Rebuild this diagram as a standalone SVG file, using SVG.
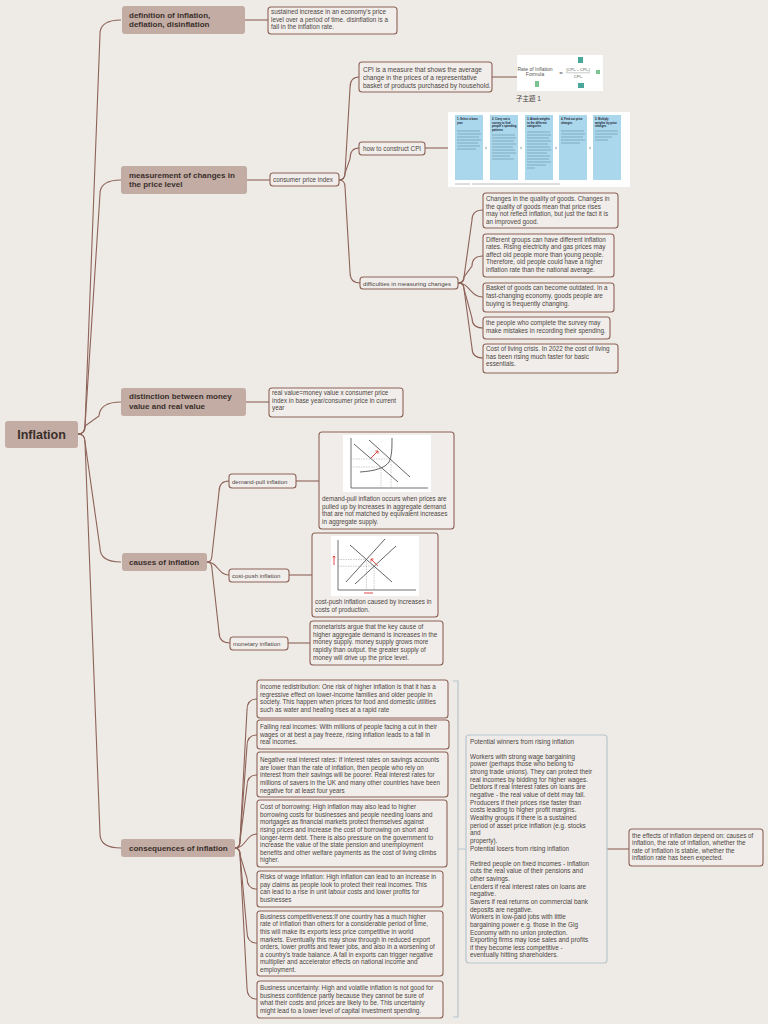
<svg xmlns="http://www.w3.org/2000/svg" width="768" height="1024" viewBox="0 0 768 1024">
<style>
.main{fill:#c2aca4}
.leaf{fill:#f1edea;stroke:#8d6358;stroke-width:1.1}
.conn{fill:none;stroke:#8d6358;stroke-width:1.1}
.blue{fill:none;stroke:#b8c6cd;stroke-width:1.2}
text{font-family:"Liberation Sans",Arial,sans-serif}
.t{font-size:6.3px;fill:#4d4642}
.w{font-size:6.4px;fill:#4d4642}
.b{font-size:8px;font-weight:bold;fill:#3a2f2b}
.r{font-size:12.5px;font-weight:bold;fill:#3a2f2b}
.ax{fill:none;stroke:#333;stroke-width:0.7}
.ln{fill:none;stroke:#222;stroke-width:0.7}
.ds{fill:none;stroke:#999;stroke-width:0.5;stroke-dasharray:1.5,1}
.red{fill:none;stroke:#d33;stroke-width:0.9}
.cb{fill:#aad7ec}
.ch{font-size:2.8px;font-weight:bold;fill:#223}
.gl{stroke:#6a8a9a;stroke-width:0.6}
.fm{font-size:5px;fill:#555}
</style>
<rect width="768" height="1024" fill="#eeeae6"/>

<g id="connectors">
<path class="conn" d="M78,434 Q85,434 85,426 L100,34 Q100,20 121,20"/>
<path class="conn" d="M78,434 Q85,434 85,426 L100,194 Q100,180 121,180"/>
<path class="conn" d="M78,434 Q85,434 85,426 L99,416 Q100,402 121,402"/>
<path class="conn" d="M78,434 Q85,434 85,442 L100,548 Q100,562 121,562"/>
<path class="conn" d="M78,434 Q85,434 85,442 L100,834 Q100,848 121,848"/>
<path class="conn" d="M245,20 L268,20"/>
<path class="conn" d="M247,180 L270,180"/>
<path class="conn" d="M246,402 L269,402"/>
<path class="conn" d="M339,180 Q345,180 345,173 L350,88 Q350,77 359,77"/>
<path class="conn" d="M339,180 Q345,180 345,173 L350,159 Q350,148 359,148"/>
<path class="conn" d="M339,180 Q345,180 345,187 L350,272 Q350,283 360,283"/>
<path class="conn" d="M492,77 L517,77"/>
<path class="conn" d="M425,148 L448,148"/>
<path class="conn" d="M458,283 Q464,283 464,277 L472,220 Q472,210 483,210"/>
<path class="conn" d="M458,283 Q464,283 464,277 L472,266 Q472,256 483,256"/>
<path class="conn" d="M458,283 C470,283 470,297 483,297"/>
<path class="conn" d="M458,283 Q464,283 464,289 L472,318 Q472,328 483,328"/>
<path class="conn" d="M458,283 Q464,283 464,289 L472,348 Q472,358 483,358"/>
<path class="conn" d="M207,562 Q212,562 212,555 L219,492 Q219,481 229,481"/>
<path class="conn" d="M207,562 C218,562 218,575 229,575"/>
<path class="conn" d="M207,562 Q212,562 212,569 L219,632 Q219,643 230,643"/>
<path class="conn" d="M296,481 L319,481"/>
<path class="conn" d="M289,575 L312,575"/>
<path class="conn" d="M288,643 L310,643"/>
<path class="conn" d="M235,848 Q240,848 240,841 L247,710 Q247,699 257,699"/>
<path class="conn" d="M235,848 Q240,848 240,841 L247,746 Q247,735 257,735"/>
<path class="conn" d="M235,848 Q240,848 240,841 L247,786 Q247,775 257,775"/>
<path class="conn" d="M235,848 C246,848 246,834 257,834"/>
<path class="conn" d="M235,848 Q240,848 240,855 L247,878 Q247,889 257,889"/>
<path class="conn" d="M235,848 Q240,848 240,855 L247,932 Q247,943 257,943"/>
<path class="conn" d="M235,848 Q240,848 240,855 L247,988 Q247,999 257,999"/>
<path class="blue" d="M453,681 H458 V1017 H453 M458,849 H466"/>
<path class="conn" d="M607,849 H629"/>
</g>

<g id="root">
<rect class="main" x="5" y="421" width="73" height="27" rx="3"/>
<text class="r" x="41.5" y="438.5" text-anchor="middle">Inflation</text>
</g>

<g id="definition">
<rect class="main" x="122" y="6" width="123" height="28" rx="3"/>
<text class="b" x="129" y="17.5">definition of inflation,</text>
<text class="b" x="129" y="27">deflation, disinflation</text>
</g>
<g id="definition-text">
<rect class="leaf" x="268" y="7" width="129" height="27" rx="3"/>
<text class="t"><tspan x="271" y="14.2">sustained increase in an economy's price</tspan><tspan x="271" y="21.8">level over a period of time. disinflation is a</tspan><tspan x="271" y="29.4">fall in the inflation rate.</tspan></text>
</g>

<g id="measurement">
<rect class="main" x="121" y="166" width="126" height="28" rx="3"/>
<text class="b" x="129" y="177.5">measurement of changes in</text>
<text class="b" x="129" y="187">the price level</text>
</g>
<g id="cpi">
<rect class="leaf" x="270" y="173" width="69" height="13" rx="3"/>
<text class="t" x="273" y="182">consumer price index</text>
</g>
<g id="cpi-measure">
<rect class="leaf" x="359" y="62" width="133" height="30" rx="3"/>
<text class="t" style="font-size:6.5px"><tspan x="363" y="72.2">CPI is a measure that shows the average</tspan><tspan x="363" y="80">change in the prices of a representative</tspan><tspan x="363" y="87.6">basket of products purchased by household.</tspan></text>
</g>
<g id="formula-image">
<rect x="517" y="55" width="86" height="36" fill="#ffffff"/>
<text class="fm" x="535" y="70.5" text-anchor="middle">Rate of Inflation</text>
<text class="fm" x="535" y="76" text-anchor="middle">Formula</text>
<text x="561" y="75" text-anchor="middle" style="font-size:6px;fill:#555">=</text>
<text x="578" y="71" text-anchor="middle" style="font-size:4px;fill:#555">(CPI₁ – CPI₀)</text>
<line x1="566" y1="72.8" x2="590" y2="72.8" stroke="#777" stroke-width="0.4"/>
<text x="578" y="77.5" text-anchor="middle" style="font-size:4px;fill:#555">CPI₀</text>
<rect x="578" y="57" width="5" height="6" fill="#4aa89a"/>
<rect x="535" y="81" width="4" height="6" fill="#7cc48f"/>
<rect x="578" y="83" width="6" height="5" fill="#4aa89a"/>
<rect x="596" y="70" width="4" height="4" fill="#7cc48f"/>
</g>
<g id="caption">
<text x="516" y="101" style="font-size:6.5px;fill:#444;font-family:'Liberation Sans','Noto Sans CJK TC',sans-serif">子主題 1</text>
</g>
<g id="how-construct">
<rect class="leaf" x="359" y="142" width="66" height="13" rx="3"/>
<text class="t" x="363" y="150.8">how to construct CPI</text>
</g>
<g id="cpi-figure">
<rect x="448" y="112" width="182" height="75" fill="#ffffff"/>
<rect class="cb" x="455" y="115" width="28" height="65"/>
<rect class="cb" x="490" y="115" width="28" height="65"/>
<rect class="cb" x="525" y="115" width="28" height="65"/>
<rect class="cb" x="559" y="115" width="28" height="65"/>
<rect class="cb" x="593" y="115" width="28" height="65"/>
<text class="ch"><tspan x="457" y="120">1. Select a base</tspan><tspan x="457" y="123.5">year</tspan></text>
<text class="ch"><tspan x="492" y="120">2. Carry out a</tspan><tspan x="492" y="123.5">survey to find</tspan><tspan x="492" y="127">people's spending</tspan><tspan x="492" y="130.5">patterns</tspan></text>
<text class="ch"><tspan x="527" y="120">3. Attach weights</tspan><tspan x="527" y="123.5">to the different</tspan><tspan x="527" y="127">categories</tspan></text>
<text class="ch"><tspan x="561" y="120">4. Find out price</tspan><tspan x="561" y="123.5">changes</tspan></text>
<text class="ch"><tspan x="595" y="120">5. Multiply</tspan><tspan x="595" y="123.5">weights by price</tspan><tspan x="595" y="127">changes</tspan></text>
<g class="gl">
<path d="M457,131H480M457,134H481M457,137H479M457,140H481M457,143H478M457,146H480M457,149H476"/>
<path d="M492,135H515M492,138H516M492,141H514M492,144H516M492,147H513M492,150H515M492,153H516M492,156H510M492,159H514"/>
<path d="M527,132H550M527,135H551M527,138H549M527,141H551M527,144H548M527,147H550M527,150H551M527,153H547M527,156H550M527,159H549M527,162H551M527,165H546M527,168H535"/>
<path d="M561,131H584M561,134H585M561,137H583M561,140H585M561,143H580"/>
<path d="M595,131H618M595,134H618M595,137H612M595,140H608"/>
</g>
<path d="M485,147 l2,1 l-2,1 M520,147 l2,1 l-2,1 M555,147 l2,1 l-2,1 M589,147 l2,1 l-2,1" fill="none" stroke="#6a8a9a" stroke-width="0.5"/>
<path d="M455,184H470M472,184H560" stroke="#aaa" stroke-width="0.8"/>
</g>
<g id="difficulties">
<rect class="leaf" x="360" y="277" width="98" height="12" rx="3"/>
<text class="t" x="363" y="285.5" style="font-size:6.1px">difficulties in measuring changes</text>
</g>
<g id="diff-1">
<rect class="leaf" x="483" y="193" width="135" height="35" rx="3"/>
<text class="t"><tspan x="486" y="201">Changes in the quality of goods. Changes in</tspan><tspan x="486" y="208.6">the quality of goods mean that price rises</tspan><tspan x="486" y="216.2">may not reflect inflation, but just the fact it is</tspan><tspan x="486" y="223.8">an improved good.</tspan></text>
</g>
<g id="diff-2">
<rect class="leaf" x="483" y="234" width="131" height="43" rx="3"/>
<text class="t"><tspan x="486" y="241.5">Different groups can have different inflation</tspan><tspan x="486" y="249.1">rates. Rising electricity and gas prices may</tspan><tspan x="486" y="256.7">affect old people more than young people.</tspan><tspan x="486" y="264.3">Therefore, old people could have a higher</tspan><tspan x="486" y="271.9">inflation rate than the national average.</tspan></text>
</g>
<g id="diff-3">
<rect class="leaf" x="483" y="283" width="131" height="29" rx="3"/>
<text class="t"><tspan x="486" y="290.4">Basket of goods can become outdated. In a</tspan><tspan x="486" y="298">fast-changing economy, goods people are</tspan><tspan x="486" y="305.6">buying is frequently changing.</tspan></text>
</g>
<g id="diff-4">
<rect class="leaf" x="483" y="317" width="127" height="22" rx="3"/>
<text class="t"><tspan x="486" y="325">the people who complete the survey may</tspan><tspan x="486" y="332.6">make mistakes in recording their spending.</tspan></text>
</g>
<g id="diff-5">
<rect class="leaf" x="483" y="344" width="135" height="29" rx="3"/>
<text class="t"><tspan x="486" y="351.2">Cost of living crisis. In 2022 the cost of living</tspan><tspan x="486" y="358.8">has been rising much faster for basic</tspan><tspan x="486" y="366.4">essentials.</tspan></text>
</g>

<g id="distinction">
<rect class="main" x="121" y="388" width="125" height="28" rx="3"/>
<text class="b" x="129" y="399">distinction between money</text>
<text class="b" x="129" y="408.5">value and real value</text>
</g>
<g id="distinction-text">
<rect class="leaf" x="269" y="388" width="134" height="29" rx="3"/>
<text class="t"><tspan x="272" y="395.2">real value=money value x consumer price</tspan><tspan x="272" y="402.8">index in base year/consumer price in current</tspan><tspan x="272" y="410.4">year</tspan></text>
</g>

<g id="causes">
<rect class="main" x="122" y="553" width="85" height="18" rx="3"/>
<text class="b" x="129" y="564.8">causes of inflation</text>
</g>
<g id="demand-pull">
<rect class="leaf" x="229" y="474" width="67" height="14" rx="3"/>
<text class="t" x="232" y="483.5" style="font-size:6px">demand-pull inflation</text>
</g>
<g id="demand-pull-text">
<rect class="leaf" x="319" y="432" width="135" height="97" rx="3"/>
<rect x="343" y="435" width="88" height="57" fill="#ffffff"/>
<path class="ax" d="M351,438 V488 H428"/>
<path class="ln" d="M354,444 L398,482"/>
<path class="ln" d="M369,440 L410,477"/>
<path class="ln" d="M360,472 C375,471 385,468 389,462 C392,456 392,448 392,438"/>
<path class="ds" d="M351,459 H391 V488 M351,467 H381 V488"/>
<path class="red" d="M371,458 L378,451 M375.5,451 L378,451 L378,453.5"/>
<text class="t"><tspan x="322" y="501.2">demand-pull inflation occurs when prices are</tspan><tspan x="322" y="508.8">pulled up by increases in aggregate demand</tspan><tspan x="322" y="516.4">that are not matched by equivalent increases</tspan><tspan x="322" y="524">in aggregate supply.</tspan></text>
</g>
<g id="cost-push">
<rect class="leaf" x="229" y="569" width="60" height="13" rx="3"/>
<text class="t" x="232" y="577.6" style="font-size:6px">cost-push inflation</text>
</g>
<g id="cost-push-text">
<rect class="leaf" x="312" y="533" width="126" height="84" rx="3"/>
<rect x="331" y="536" width="88" height="60" fill="#ffffff"/>
<path class="ax" d="M338,540 V590 H416"/>
<path class="ln" d="M355,584 L396,546"/>
<path class="ln" d="M346,582 L385,539"/>
<path class="ln" d="M350,545 L392,582"/>
<path class="ds" d="M338,559.5 H366.4 V590 M338,566.2 H374.1 V590"/>
<path class="red" d="M378,566 L371,559 M371,561.5 L371,559 L373.5,559"/>
<path class="red" d="M334,565 V556 M332.8,557.5 L334,556 L335.2,557.5"/>
<path class="red" d="M364,593 H373"/>
<text class="t"><tspan x="315" y="604.2">cost-push inflation caused by increases in</tspan><tspan x="315" y="611.8">costs of production.</tspan></text>
</g>
<g id="monetary">
<rect class="leaf" x="230" y="637" width="58" height="13" rx="3"/>
<text class="t" x="233" y="645.6" style="font-size:6px">monetary inflation</text>
</g>
<g id="monetary-text">
<rect class="leaf" x="310" y="621" width="133" height="44" rx="3"/>
<text class="t"><tspan x="313" y="629.2">monetarists argue that the key cause of</tspan><tspan x="313" y="636.8">higher aggregate demand is increases in the</tspan><tspan x="313" y="644.4">money supply. money supply grows more</tspan><tspan x="313" y="652">rapidly than output. the greater supply of</tspan><tspan x="313" y="659.6">money will drive up the price level.</tspan></text>
</g>

<g id="consequences">
<rect class="main" x="121" y="839" width="114" height="18" rx="3"/>
<text class="b" x="129" y="851">consequences of inflation</text>
</g>
<g id="cons-1">
<rect class="leaf" x="257" y="680" width="191" height="38" rx="3"/>
<text class="t"><tspan x="260" y="689.2">Income redistribution: One risk of higher inflation is that it has a</tspan><tspan x="260" y="696.8">regressive effect on lower-income families and older people in</tspan><tspan x="260" y="704.4">society. This happen when prices for food and domestic utilities</tspan><tspan x="260" y="712">such as water and heating rises at a rapid rate</tspan></text>
</g>
<g id="cons-2">
<rect class="leaf" x="257" y="720" width="192" height="29" rx="3"/>
<text class="t"><tspan x="260" y="729.2">Falling real incomes: With millions of people facing a cut in their</tspan><tspan x="260" y="736.8">wages or at best a pay freeze, rising inflation leads to a fall in</tspan><tspan x="260" y="744.4">real incomes.</tspan></text>
</g>
<g id="cons-3">
<rect class="leaf" x="257" y="752" width="191" height="45" rx="3"/>
<text class="t"><tspan x="260" y="762.2">Negative real interest rates: If interest rates on savings accounts</tspan><tspan x="260" y="769.8">are lower than the rate of inflation, then people who rely on</tspan><tspan x="260" y="777.4">interest from their savings will be poorer. Real interest rates for</tspan><tspan x="260" y="785">millions of savers in the UK and many other countries have been</tspan><tspan x="260" y="792.6">negative for at least four years</tspan></text>
</g>
<g id="cons-4">
<rect class="leaf" x="257" y="800" width="190" height="67" rx="3"/>
<text class="t"><tspan x="260" y="809.2">Cost of borrowing: High inflation may also lead to higher</tspan><tspan x="260" y="816.8">borrowing costs for businesses and people needing loans and</tspan><tspan x="260" y="824.4">mortgages as financial markets protect themselves against</tspan><tspan x="260" y="832">rising prices and increase the cost of borrowing on short and</tspan><tspan x="260" y="839.6">longer-term debt. There is also pressure on the government to</tspan><tspan x="260" y="847.2">increase the value of the state pension and unemployment</tspan><tspan x="260" y="854.8">benefits and other welfare payments as the cost of living climbs</tspan><tspan x="260" y="862.4">higher.</tspan></text>
</g>
<g id="cons-5">
<rect class="leaf" x="257" y="871" width="186" height="36" rx="3"/>
<text class="t"><tspan x="260" y="879">Risks of wage inflation: High inflation can lead to an increase in</tspan><tspan x="260" y="886.6">pay claims as people look to protect their real incomes. This</tspan><tspan x="260" y="894.2">can lead to a rise in unit labour costs and lower profits for</tspan><tspan x="260" y="901.8">businesses</tspan></text>
</g>
<g id="cons-6">
<rect class="leaf" x="257" y="911" width="186" height="65" rx="3"/>
<text class="t"><tspan x="260" y="918.8">Business competitiveness:If one country has a much higher</tspan><tspan x="260" y="926.4">rate of inflation than others for a considerable period of time,</tspan><tspan x="260" y="934">this will make its exports less price competitive in world</tspan><tspan x="260" y="941.6">markets. Eventually this may show through in reduced export</tspan><tspan x="260" y="949.2">orders, lower profits and fewer jobs, and also in a worsening of</tspan><tspan x="260" y="956.8">a country's trade balance. A fall in exports can trigger negative</tspan><tspan x="260" y="964.4">multiplier and accelerator effects on national income and</tspan><tspan x="260" y="972">employment.</tspan></text>
</g>
<g id="cons-7">
<rect class="leaf" x="257" y="981" width="186" height="37" rx="3"/>
<text class="t"><tspan x="260" y="990.2">Business uncertainty: High and volatile inflation is not good for</tspan><tspan x="260" y="997.8">business confidence partly because they cannot be sure of</tspan><tspan x="260" y="1005.4">what their costs and prices are likely to be. This uncertainty</tspan><tspan x="260" y="1013">might lead to a lower level of capital investment spending.</tspan></text>
</g>

<g id="winners-losers">
<rect x="466" y="735" width="141" height="228" rx="3" fill="#efebe8" stroke="#b8c6cd" stroke-width="1.2"/>
<text class="w"><tspan x="470" y="743.5">Potential winners from rising inflation</tspan><tspan x="470" y="758.8">Workers with strong wage bargaining</tspan><tspan x="470" y="766.4">power (perhaps those who belong to</tspan><tspan x="470" y="774.1">strong trade unions). They can protect their</tspan><tspan x="470" y="781.7">real incomes by bidding for higher wages.</tspan><tspan x="470" y="789.3">Debtors if real interest rates on loans are</tspan><tspan x="470" y="797">negative - the real value of debt may fall.</tspan><tspan x="470" y="804.6">Producers if their prices rise faster than</tspan><tspan x="470" y="812.3">costs leading to higher profit margins.</tspan><tspan x="470" y="819.9">Wealthy groups if there is a sustained</tspan><tspan x="470" y="827.5">period of asset price inflation (e.g. stocks</tspan><tspan x="470" y="835.2">and</tspan><tspan x="470" y="842.8">property).</tspan><tspan x="470" y="850.5">Potential losers from rising inflation</tspan><tspan x="470" y="865.7">Retired people on fixed incomes - inflation</tspan><tspan x="470" y="873.4">cuts the real value of their pensions and</tspan><tspan x="470" y="881">other savings.</tspan><tspan x="470" y="888.7">Lenders if real interest rates on loans are</tspan><tspan x="470" y="896.3">negative.</tspan><tspan x="470" y="903.9">Savers if real returns on commercial bank</tspan><tspan x="470" y="911.6">deposits are negative.</tspan><tspan x="470" y="919.2">Workers in low-paid jobs with little</tspan><tspan x="470" y="926.9">bargaining power e.g. those in the Gig</tspan><tspan x="470" y="934.5">Economy with no union protection.</tspan><tspan x="470" y="942.1">Exporting firms may lose sales and profits</tspan><tspan x="470" y="949.8">if they become less competitive -</tspan><tspan x="470" y="957.4">eventually hitting shareholders.</tspan></text>
</g>
<g id="effects">
<rect class="leaf" x="629" y="829" width="134" height="37" rx="3"/>
<text class="t"><tspan x="632" y="837.5">the effects of inflation depend on: causes of</tspan><tspan x="632" y="845">inflation, the rate of inflation, whether the</tspan><tspan x="632" y="852.5">rate of inflation is stable, whether the</tspan><tspan x="632" y="860">inflation rate has been expected.</tspan></text>
</g>
</svg>
